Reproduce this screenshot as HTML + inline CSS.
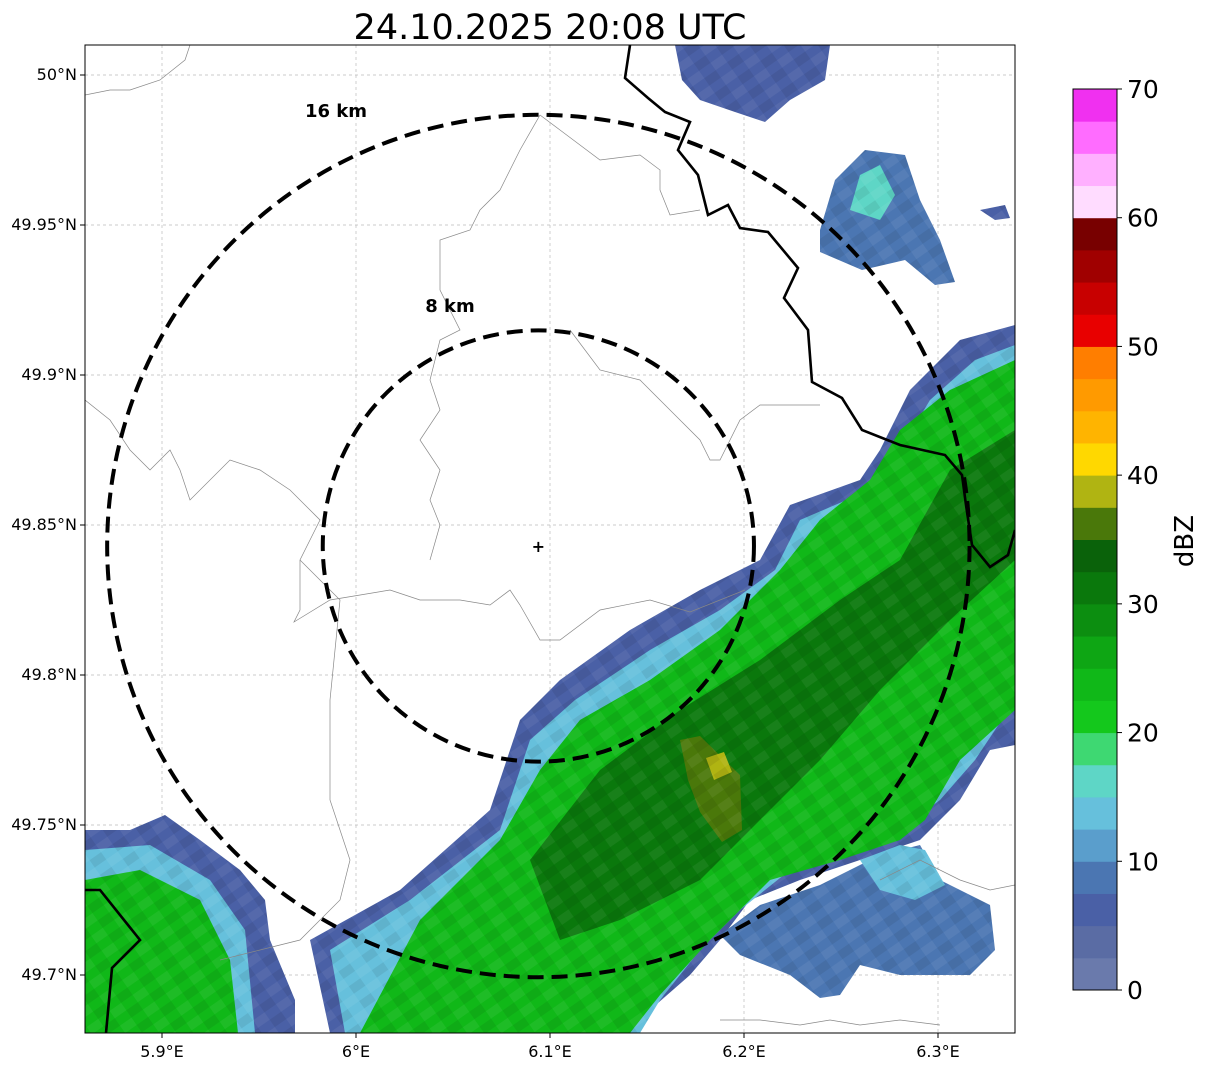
<!DOCTYPE html>
<html><head><meta charset="utf-8"><style>
body{margin:0;background:#fff;width:1207px;height:1069px;overflow:hidden;font-family:"DejaVu Sans","Liberation Sans",sans-serif}
</style></head><body>
<svg id="s" width="1207" height="1069" xmlns="http://www.w3.org/2000/svg" font-family="DejaVu Sans, Liberation Sans, sans-serif">
<defs><clipPath id="mapclip"><rect x="85" y="45" width="930" height="988"/></clipPath>
<pattern id="tex" width="28" height="18" patternUnits="userSpaceOnUse" patternTransform="rotate(-35)">
<rect x="0" y="0" width="14" height="9" fill="#000" opacity="0.07"/><rect x="14" y="9" width="14" height="9" fill="#fff" opacity="0.06"/></pattern></defs>
<text x="550" y="39" text-anchor="middle" font-size="35">24.10.2025 20:08 UTC</text>
<g id="map" clip-path="url(#mapclip)"></g>
<rect x="85" y="45" width="930" height="988" fill="none" stroke="#000" stroke-width="1"/>
<g id="axes"></g>
<g id="cbar"></g>
<text transform="translate(1193,541) rotate(-90)" text-anchor="middle" font-size="26">dBZ</text>
</svg>
<script>
const NS="http://www.w3.org/2000/svg";
const lonTicks=[5.9,6.0,6.1,6.2,6.3];
const lonLabels=["5.9°E","6°E","6.1°E","6.2°E","6.3°E"];
const latTicks=[50.0,49.95,49.9,49.85,49.8,49.75,49.7];
const latLabels=["50°N","49.95°N","49.9°N","49.85°N","49.8°N","49.75°N","49.7°N"];
const cbarLevels=[0,2.5,5,7.5,10,12.5,15,17.5,20,22.5,25,27.5,30,32.5,35,37.5,40,42.5,45,47.5,50,52.5,55,57.5,60,62.5,65,67.5];
const cbarColors=["#6a7aac","#5a6ca4","#4a60a6","#4b76b2","#5a9ecc","#66c0dc","#5ed6c6","#3ed872","#14c81c","#10b818","#0ea614","#0c8e10","#0a780c","#0a620a","#4a780a","#b0b412","#ffd800","#ffb400","#ff9a00","#ff7e00","#e80000","#c80000","#a00000","#780000","#ffdcff","#ffb0ff","#ff6cff","#f030f0"];
const cbarTicks=[0,10,20,30,40,50,60,70];
const radarCenter=[6.094,49.843];
const ringKm=[8,16];
const regionDbz=[5,12.5,22.5,30,35,37.5,5,12.5,22.5,5,7.5,15,7.5,12.5,5];
const regionPts=[
 [[330,1033],[310,940],[400,890],[490,810],[520,720],[560,680],[630,630],[700,590],[760,560],[790,505],[860,480],[880,450],[910,390],[960,340],[1015,325],[1015,745],[990,750],[960,800],[920,840],[860,860],[800,880],[750,900],[720,940],[690,975],[650,1010],[630,1033]],
 [[345,1033],[330,950],[410,900],[500,830],[530,740],[575,700],[650,650],[720,610],[775,570],[800,520],[870,490],[900,450],[930,400],[975,360],[1015,345],[1015,700],[975,760],[940,800],[900,830],[850,850],[790,870],[740,910],[700,950],[660,1000],[640,1033]],
 [[360,1033],[420,920],[500,840],[540,770],[580,720],[650,680],[720,630],[780,570],[820,520],[870,480],[900,430],[950,390],[1015,360],[1015,710],[960,760],[925,820],[900,840],[840,860],[770,880],[710,940],[660,995],[630,1033]],
 [[530,860],[600,770],[680,710],[760,660],[840,600],[900,560],[950,470],[1015,430],[1015,560],[950,620],[880,690],[820,760],[760,820],[700,880],[620,920],[560,940]],
 [[680,740],[700,736],[740,775],[742,830],[722,842],[700,812],[688,780]],
 [[706,758],[724,752],[732,772],[714,780]],
 [[85,830],[130,830],[165,815],[200,840],[240,870],[265,900],[270,940],[295,1000],[295,1033],[85,1033]],
 [[85,850],[150,845],[210,880],[245,930],[255,1033],[85,1033]],
 [[85,880],[140,870],[200,900],[230,960],[238,1033],[85,1033]],
 [[675,45],[830,45],[825,80],[790,100],[765,122],[735,112],[700,100],[682,80]],
 [[820,230],[835,180],[865,150],[905,155],[920,200],[940,240],[955,282],[935,285],[905,260],[862,270],[820,252]],
 [[850,210],[860,175],[880,165],[895,195],[880,220]],
 [[720,935],[760,905],[820,885],[880,855],[920,845],[940,880],[990,905],[995,950],[970,975],[900,975],[860,965],[840,995],[820,998],[790,975],[740,955]],
 [[860,860],[900,845],[925,850],[945,885],[915,900],[880,890]],
 [[980,210],[1005,205],[1010,218],[995,220]]
];
const blackBorder=[[630,45],[625,78],[648,98],[665,112],[690,122],[678,150],[698,175],[708,215],[728,205],[740,228],[768,232],[798,268],[784,298],[808,330],[812,382],[842,398],[862,430],[900,445],[945,455],[962,475],[966,505],[972,545],[990,567],[1008,555],[1015,530]];
const blackBorder2=[[85,890],[100,890],[140,940],[112,968],[106,1033]];
const grayLines=[
 [[85,400],[110,420],[130,450],[150,470],[170,450],[180,470],[190,500],[230,460],[260,470],[290,490],[320,520],[300,560],[300,610],[294,622],[330,600],[390,590],[420,600],[460,600],[490,605],[510,590],[520,605],[540,640],[560,640],[600,610],[650,600],[690,612],[720,600],[745,590]],
 [[85,95],[110,90],[130,90],[160,80],[185,60],[190,45]],
 [[540,115],[520,150],[500,190],[480,210],[470,230],[440,240],[440,290],[460,330],[440,340],[430,380],[440,410],[420,440],[440,470],[430,500],[440,525],[430,560]],
 [[540,115],[560,130],[600,160],[640,155],[660,170],[660,190],[670,215],[700,210]],
 [[570,330],[600,370],[640,380],[660,400],[680,420],[700,440],[710,460],[720,460],[740,420],[760,405],[820,405]],
 [[300,560],[340,600],[330,700],[330,770],[330,800],[340,830],[350,860],[340,900],[300,940],[260,950],[220,960]],
 [[720,1020],[760,1020],[800,1025],[830,1020],[860,1025],[900,1020],[940,1025]],
 [[880,880],[920,860],[960,880],[990,890],[1015,885]]
];
function X(lon){return 356+(lon-6.0)*1940;}
function Y(lat){return 525-(lat-49.85)*3000;}
function colorFor(v){let c=cbarColors[0];for(let i=0;i<cbarLevels.length;i++){if(v>=cbarLevels[i])c=cbarColors[i];}return c;}
function el(t,a,p){const e=document.createElementNS(NS,t);for(const k in a)e.setAttribute(k,a[k]);p.appendChild(e);return e;}
const map=document.getElementById('map');
lonTicks.forEach(v=>{const g=el('line',{x1:X(v),x2:X(v),y1:45,y2:1033,stroke:'#bbb','stroke-width':0.7,'stroke-dasharray':'3,3'},map);

});
latTicks.forEach(v=>{const g=el('line',{x1:85,x2:1015,y1:Y(v),y2:Y(v),stroke:'#bbb','stroke-width':0.7,'stroke-dasharray':'3,3'},map);

});
regionPts.forEach((pts,i)=>{const d=pts.map(p=>p.join(',')).join(' ');
const p=el('polygon',{points:d,fill:colorFor(regionDbz[i])},map);


const t=el('polygon',{points:d,fill:'url(#tex)'},map);

});
grayLines.forEach(l=>{const p=el('polyline',{points:l.map(q=>q.join(',')).join(' '),fill:'none',stroke:'#888','stroke-width':0.7},map);

});
[blackBorder,blackBorder2].forEach(l=>{const p=el('polyline',{points:l.map(q=>q.join(',')).join(' '),fill:'none',stroke:'#000','stroke-width':2.6},map);

});
const cx=X(radarCenter[0]),cy=Y(radarCenter[1]);
const ringLabelPos=[[450,312],[336,117]];
ringKm.forEach((k,i)=>{const r=k*26.95;const c=el('circle',{cx:cx,cy:cy,r:r,fill:'none',stroke:'#000','stroke-width':4,'stroke-dasharray':'16,8'},map);


const t=el('text',{x:ringLabelPos[i][0],y:ringLabelPos[i][1],'font-size':18,'font-weight':'bold','text-anchor':'middle'},map);t.textContent=k+' km';

});
const m=el('text',{x:cx,y:cy+6,'font-size':16,'font-weight':'bold','text-anchor':'middle'},map);m.textContent='+';


const ax=document.getElementById('axes');
lonTicks.forEach((v,i)=>{el('line',{x1:X(v),x2:X(v),y1:1033,y2:1038,stroke:'#000'},ax);
const t=el('text',{x:X(v),y:1057,'font-size':16,'text-anchor':'middle'},ax);t.textContent=lonLabels[i];

});
latTicks.forEach((v,i)=>{el('line',{x1:80,x2:85,y1:Y(v),y2:Y(v),stroke:'#000'},ax);
const t=el('text',{x:77,y:Y(v)+5,'font-size':16,'text-anchor':'end'},ax);t.textContent=latLabels[i];

});
const cb=document.getElementById('cbar');
const cbTop=89,cbBot=990,cbX=1073,cbW=44;
function CY(v){return cbBot-(v/70)*(cbBot-cbTop);}
cbarLevels.forEach((v,i)=>{const r=el('rect',{x:cbX,y:CY(v+2.5),width:cbW,height:CY(v)-CY(v+2.5)+0.5,fill:cbarColors[i]},cb);

});
el('rect',{x:cbX,y:cbTop,width:cbW,height:cbBot-cbTop,fill:'none',stroke:'#000','stroke-width':1},cb);
cbarTicks.forEach(v=>{el('line',{x1:cbX+cbW,x2:cbX+cbW+5,y1:CY(v),y2:CY(v),stroke:'#000'},cb);
const t=el('text',{x:cbX+cbW+10,y:CY(v)+9,'font-size':25},cb);t.textContent=v;

});
</script>
</body></html>
